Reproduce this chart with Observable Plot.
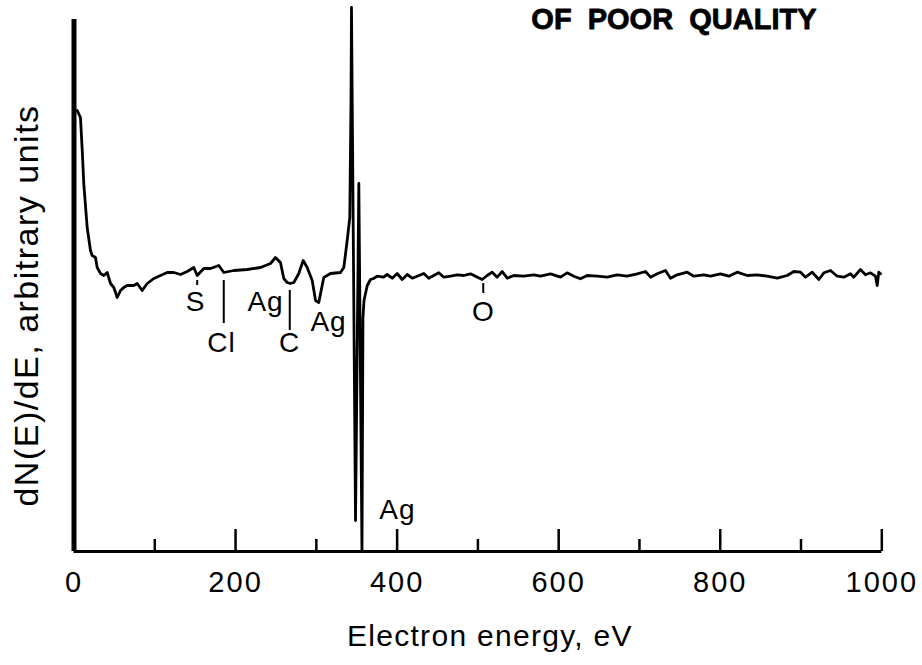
<!DOCTYPE html>
<html>
<head>
<meta charset="utf-8">
<script src="https://cdn.jsdelivr.net/npm/d3@7"></script>
<script src="https://cdn.jsdelivr.net/npm/@observablehq/plot@0.6"></script>
<style>
  html, body { margin: 0; padding: 0; background: #fff; }
  svg { display: block; }
</style>
</head>
<body>
<script>
// Electron energy (eV) and dN(E)/dE (arbitrary units, baseline = 0)
const energy = [
  4.0, 8.0, 10.2, 12.1, 16.3, 20.4, 22.5, 26.6, 28.7, 32.8, 36.9, 41.1, 45.2, 49.3, 53.5,
  57.6, 61.6, 65.9, 74.0, 78.2, 84.4, 90.6, 98.8, 107.1, 115.4, 123.5, 132.0, 140.1, 148.3,
  152.5, 160.7, 169.0, 179.3, 185.4, 197.8, 214.4, 230.9, 243.3, 249.4, 255.6, 259.7, 263.9,
  268.0, 272.1, 278.3, 283.7, 288.7, 294.9, 299.0, 303.0, 309.2, 317.5, 329.9, 334.0, 338.2,
  341.4, 342.9, 343.5, 348.5, 352.6, 356.5, 357.7, 359.0, 363.0, 367.0, 370.8, 375.3, 383.1,
  387.7, 393.9, 400.1, 406.3, 412.5, 418.7, 424.9, 433.0, 439.2, 445.4, 451.6, 457.8, 466.1,
  474.4, 482.5, 490.8, 497.0, 505.3, 511.5, 517.7, 523.9, 530.1, 536.3, 544.4, 556.8, 569.2,
  577.5, 589.9, 602.3, 610.5, 618.7, 627.0, 635.3, 647.7, 660.1, 672.4, 684.8, 697.2, 707.5,
  713.7, 721.9, 732.2, 738.4, 746.7, 759.1, 767.3, 779.6, 788.0, 800.3, 810.6, 821.0, 833.4,
  845.8, 858.1, 870.5, 882.9, 891.1, 899.4, 905.6, 913.9, 922.1, 928.3, 936.5, 944.8, 953.0,
  961.3, 965.3, 973.6, 979.8, 986.0, 992.2, 994.3, 996.3, 998.4
];
const dNdE = [
  441, 434, 401, 368, 324, 301, 296, 294, 284, 278, 276, 279, 268, 264, 254,
  261, 264, 266, 266, 268, 261, 268, 273, 276, 279, 279, 277, 280, 284,
  276, 283, 283, 286, 279, 281, 282, 284, 288, 294, 289, 273, 269,
  268, 269, 278, 291, 284, 271, 251, 249, 274, 278, 279, 284, 311,
  334, 451, 544, 31, 368, 0, 233, 251, 266, 272, 273, 275.3, 274.3,
  277, 273.3, 278, 272, 277, 273.3, 275.3, 278, 273.3, 276, 278.7, 274.3, 275.3,
  276.7, 276, 277.7, 275.3, 272, 276, 279.3, 274.3, 280, 273.3, 276, 275.3, 276.7,
  275.3, 277.7, 274.3, 278.7, 275.3, 272.7, 276, 275.3, 274.3, 276.7, 275.3, 277.7, 280,
  274.3, 277.7, 281, 273.3, 276.7, 279.3, 275.3, 276.7, 275.3, 277.7, 275.3, 279.3, 276,
  276.7, 275.3, 273.3, 276, 280, 279.3, 274.3, 279.3, 272, 278.7, 281, 275.3, 274.3,
  277.7, 274.3, 282, 276.7, 278.7, 275.3, 266, 279.3, 277.7
];

// Axis ticks and labels
const majorTicks = [200, 400, 600, 800, 1000];
const minorTicks = [100, 300, 500, 700, 900];
const tickLabels = [0, 200, 400, 600, 800, 1000];

// Peak annotations: label, energy, height
const peakLabels = ["S", "Cl", "Ag", "C", "Ag", "Ag", "O"];
const peakLabelX = [150.6, 182.6, 237.1, 266.8, 315.1, 400.4, 506.9];
const peakLabelY = [249, 208, 249, 208, 229, 41, 239];

// Marker lines: energy, from, to
const markerX  = [152.5, 185.4, 267.1, 506.6];
const markerY1 = [266, 228, 221, 258];
const markerY2 = [271, 271, 261, 268];

const xTitle = "Electron energy, eV";
const yTitle = "dN(E)/dE, arbitrary units";
const header = "OF  POOR  QUALITY";

const spectrum = energy.map((e, i) => ({e, v: dNdE[i]}));
const labels = peakLabels.map((t, i) => ({t, x: peakLabelX[i], y: peakLabelY[i]}));
const markers = markerX.map((x, i) => ({x, y1: markerY1[i], y2: markerY2[i]}));

const chart = Plot.plot({
  width: 922,
  height: 665,
  marginLeft: 73.5,
  marginRight: 40.7,
  marginTop: 7,
  marginBottom: 114,
  x: {domain: [0, 1000]},
  y: {domain: [0, 544], axis: null},
  style: {fontFamily: "'Liberation Sans', Arial, Helvetica, sans-serif", background: "#fff", color: "#000"},
  marks: [
    Plot.ruleY([0], {stroke: "#000", strokeWidth: 3}),
    Plot.ruleX([0], {y1: 0, y2: 532, stroke: "#000", strokeWidth: 5}),
    Plot.ruleX(majorTicks, {x: d => d, y1: 0, y2: 22, stroke: "#000", strokeWidth: 2.5}),
    Plot.ruleX(minorTicks, {x: d => d, y1: 0, y2: 12, stroke: "#000", strokeWidth: 2.5}),
    Plot.axisX({ticks: tickLabels, tickSize: 0, tickPadding: 20, fontSize: 29, label: null, tickFormat: d => String(d)}),
    Plot.line(spectrum, {x: "e", y: "v", stroke: "#000", strokeWidth: 2.8, strokeLinejoin: "round"}),
    Plot.ruleX(markers, {x: "x", y1: "y1", y2: "y2", stroke: "#000", strokeWidth: 2}),
    Plot.text(labels, {x: "x", y: "y", text: "t", fontSize: 28, fill: "#000"}),
    Plot.text([xTitle], {frameAnchor: "bottom", dx: 12, dy: 94, fontSize: 30, fill: "#000"}),
    Plot.text([yTitle], {x: () => -57.6, y: () => 246, rotate: -90, fontSize: 34, fill: "#000"}),
    Plot.text([header], {frameAnchor: "top", dx: 196, dy: 1, fontSize: 29, fontWeight: "bold", fill: "#000", stroke: "#000", strokeWidth: 0.8})
  ]
});

// slightly wider letter spacing, like the original typeface
d3.select(chart).selectAll("text").each(function() {
  const t = this.textContent;
  if (t === xTitle) this.style.letterSpacing = "1.3px";
  else if (t === yTitle) this.style.letterSpacing = "1.5px";
  else if (/^\d+$/.test(t)) this.style.letterSpacing = "2px";
  else if (peakLabels.includes(t)) this.style.letterSpacing = "1px";
});
document.body.appendChild(chart);
</script>
</body>
</html>
